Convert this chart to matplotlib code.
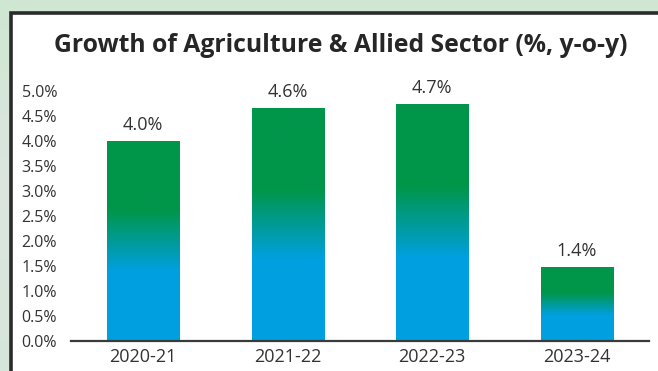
import matplotlib
matplotlib.use("Agg")
import matplotlib.pyplot as plt
import numpy as np
from matplotlib.colors import LinearSegmentedColormap
from matplotlib.patches import Rectangle

categories = ["2020-21", "2021-22", "2022-23", "2023-24"]
values = [4.0, 4.65, 4.73, 1.47]
value_labels = ["4.0%", "4.6%", "4.7%", "1.4%"]
yticks = [0.0, 0.5, 1.0, 1.5, 2.0, 2.5, 3.0, 3.5, 4.0, 4.5, 5.0]
title = "Growth of Agriculture & Allied Sector (%, y-o-y)"

plt.rcParams['font.family'] = ['Open Sans', 'DejaVu Sans']

W, H = 658, 371
fig = plt.figure(figsize=(W / 100, H / 100), dpi=100)
fig.patch.set_facecolor("#d3e6d9")

# background gradient (figure level)
bg = fig.add_axes([0, 0, 1, 1], zorder=-10)
grad = np.linspace(0, 1, 256)[:, None]
bg_cmap = LinearSegmentedColormap.from_list("bg", ["#cfe7d2", "#dce5df", "#d6e6da"])
bg.imshow(grad, aspect="auto", cmap=bg_cmap, extent=[0, 1, 0, 1])
bg.set_axis_off()

# white chart panel with dark frame
panel = Rectangle((10.5 / W, -0.05), 1.0, (H - 12.5) / H + 0.05, transform=fig.transFigure,
                  facecolor="white", edgecolor="#2b2b2b", linewidth=2.6, zorder=-5)
fig.patches.append(panel)

ax = fig.add_axes([71 / W, (H - 341) / H, (649 - 71) / W, (341 - 90.5) / H])
ax.set_facecolor("none")
x = np.arange(len(categories))
bars = ax.bar(x, values, width=0.5, color="none", edgecolor="none")

cmap = LinearSegmentedColormap.from_list(
    "barg", [(0.0, "#00a0e0"), (0.35, "#00a0e0"), (0.65, "#00964a"), (1.0, "#00964a")])
g = np.linspace(0, 1, 256)[:, None]
for b in bars:
    x0, w, h = b.get_x(), b.get_width(), b.get_height()
    im = ax.imshow(g, aspect="auto", cmap=cmap, origin="lower",
                   extent=[x0, x0 + w, 0, h], zorder=2)
    im.set_clip_path(b)

for b, lab in zip(bars, value_labels):
    ax.annotate(lab, (b.get_x() + b.get_width() / 2, b.get_height()),
                xytext=(0, 5), textcoords="offset points", ha="center", va="bottom",
                fontsize=13, color="#333333")

ax.set_xlim(-0.5, len(categories) - 0.5)
ax.set_ylim(0, 5.0)
ax.set_yticks(yticks)
ax.set_yticklabels([f"{t:.1f}%" for t in yticks])
ax.set_xticks(x)
ax.set_xticklabels(categories)
ax.tick_params(axis="y", length=0, pad=10, labelsize=11.5, labelcolor="#333333")
ax.tick_params(axis="x", length=0, pad=5, labelsize=13, labelcolor="#333333")
for s in ["top", "right", "left"]:
    ax.spines[s].set_visible(False)
ax.spines["bottom"].set_color("#3a3a3a")
ax.spines["bottom"].set_linewidth(1.6)
ax.spines["bottom"].set_zorder(5)

fig.text(341 / W, 1 - 46 / H, title, ha="center", va="center",
         fontsize=17.8, fontweight="bold", color="#262626")

fig.savefig("out.png", dpi=100)
